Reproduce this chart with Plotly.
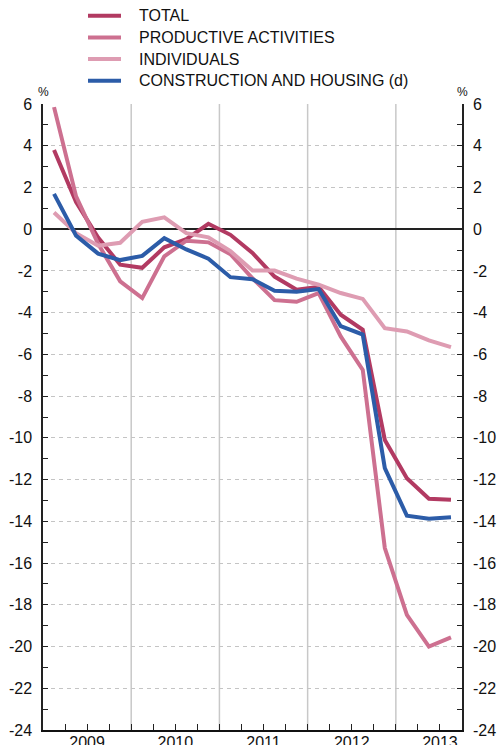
import plotly.graph_objects as go

# quarterly data, 2009 Q1 - 2013 Q3 (% year-on-year)
years = [2009, 2010, 2011, 2012, 2013]
quarters = [f"{y}Q{q}" for y in years for q in range(1, 5)][:19]

total = [3.8, 1.3, -0.4, -1.7, -1.85, -0.87, -0.48, 0.26, -0.27, -1.14,
         -2.27, -2.9, -2.76, -4.1, -4.82, -10.1, -11.93, -12.92, -12.97]
productive = [5.85, 1.57, -0.7, -2.5, -3.3, -1.3, -0.55, -0.63, -1.2, -2.35,
              -3.4, -3.48, -3.06, -5.14, -6.74, -15.28, -18.48, -20.0, -19.56]
individuals = [0.8, -0.19, -0.79, -0.65, 0.35, 0.57, -0.19, -0.39, -1.05, -1.98,
               -1.98, -2.37, -2.66, -3.06, -3.34, -4.74, -4.9, -5.33, -5.65]
construction = [1.69, -0.31, -1.17, -1.48, -1.28, -0.43, -0.97, -1.41, -2.3, -2.4,
                -2.95, -3.0, -2.87, -4.65, -5.05, -11.45, -13.73, -13.88, -13.81]

series = [
    ("TOTAL", total, "#b23a62"),
    ("PRODUCTIVE ACTIVITIES", productive, "#cd7090"),
    ("INDIVIDUALS", individuals, "#de9cb2"),
    ("CONSTRUCTION AND HOUSING (d)", construction, "#2c5ca8"),
]

# each quarter is plotted at the middle of its slot
xpos = [i + 0.5 for i in range(len(quarters))]

FONT = "Liberation Sans, Arial, sans-serif"
W, H = 497, 745
ML, MR, MT, MB = 43, 35, 104, 15
PW, PH = W - ML - MR, H - MT - MB


def px_x(px):
    return (px - ML) / PW


def px_y(py):
    return (H - MB - py) / PH


fig = go.Figure()
for name, vals, color in series:
    fig.add_trace(go.Scatter(
        x=xpos, y=vals, name=name, mode="lines",
        line=dict(color=color, width=4), showlegend=False,
    ))

# dummy hidden trace so the right axis is drawn
fig.add_trace(go.Scatter(x=[xpos[0]], y=[total[0]], yaxis="y2", showlegend=False,
                         mode="markers", marker=dict(opacity=0), hoverinfo="skip"))

yticks = list(range(-24, 7, 2))
yaxis_common = dict(
    range=[-24, 6], tickvals=yticks, ticktext=[str(v) for v in yticks],
    ticks="inside", ticklen=5, tickcolor="#222", tickwidth=1.2,
    showline=True, linecolor="#222", linewidth=1.5,
    minor=dict(tickvals=list(range(-23, 6, 2)), ticks="inside", ticklen=5,
               tickcolor="#222", tickwidth=1.2),
    tickfont=dict(family=FONT, size=16, color="#111"),
    ticklabelstandoff=6, automargin=False,
)

# legend drawn by hand so the row spacing matches
legend_shapes = []
legend_notes = []
for k, (name, vals, color) in enumerate(series):
    yc = 15.7 + k * 21.7
    legend_shapes.append(dict(
        type="line", xref="paper", yref="paper",
        x0=px_x(88), x1=px_x(121), y0=px_y(yc), y1=px_y(yc),
        line=dict(color=color, width=4)))
    legend_notes.append(dict(
        text=name, xref="paper", yref="paper", x=px_x(137), y=px_y(yc),
        xanchor="left", yanchor="middle", showarrow=False,
        font=dict(family=FONT, size=16, color="#111")))

fig.update_layout(
    width=W, height=H,
    margin=dict(l=ML, r=MR, t=MT, b=MB, autoexpand=False),
    plot_bgcolor="white", paper_bgcolor="white",
    font=dict(family=FONT, color="#111"),
    showlegend=False,
    xaxis=dict(
        range=[0, len(quarters)],
        tickvals=[4 * k + 2 for k in range(len(years))],
        ticktext=[str(y) for y in years],
        ticks="", showgrid=False, zeroline=False,
        showline=True, linecolor="#111", linewidth=2,
        minor=dict(tickvals=list(range(1, len(quarters))), ticks="inside",
                   ticklen=6, tickcolor="#222", tickwidth=1.2),
        tickfont=dict(family=FONT, size=16, color="#111"),
        ticklabelstandoff=-3, automargin=False,
    ),
    yaxis=dict(
        **yaxis_common,
        showgrid=True, gridcolor="#c4c4c4", gridwidth=1, griddash="4px,4px",
        zeroline=True, zerolinecolor="#222", zerolinewidth=1.5,
    ),
    yaxis2=dict(
        **yaxis_common,
        overlaying="y", side="right", showgrid=False, zeroline=False,
    ),
    annotations=legend_notes + [
        dict(text="%", xref="paper", yref="paper", x=0, y=1, xanchor="center",
             yanchor="bottom", yshift=3, showarrow=False,
             font=dict(family=FONT, size=12, color="#111")),
        dict(text="%", xref="paper", yref="paper", x=1, y=1, xanchor="center",
             yanchor="bottom", yshift=3, showarrow=False,
             font=dict(family=FONT, size=12, color="#111")),
    ],
    shapes=legend_shapes + [
        dict(type="line", xref="x", yref="paper", x0=4 * k, x1=4 * k, y0=0, y1=1,
             line=dict(color="#c8c8c8", width=1.5), layer="below")
        for k in range(1, len(years))
    ],
)

# drop the page's default body margin so the figure sits at the top-left corner
fig.write_html("out.html",
               config={"displayModeBar": False},
               post_script="document.body.style.margin='0';"
                           "document.body.style.overflow='hidden';")
